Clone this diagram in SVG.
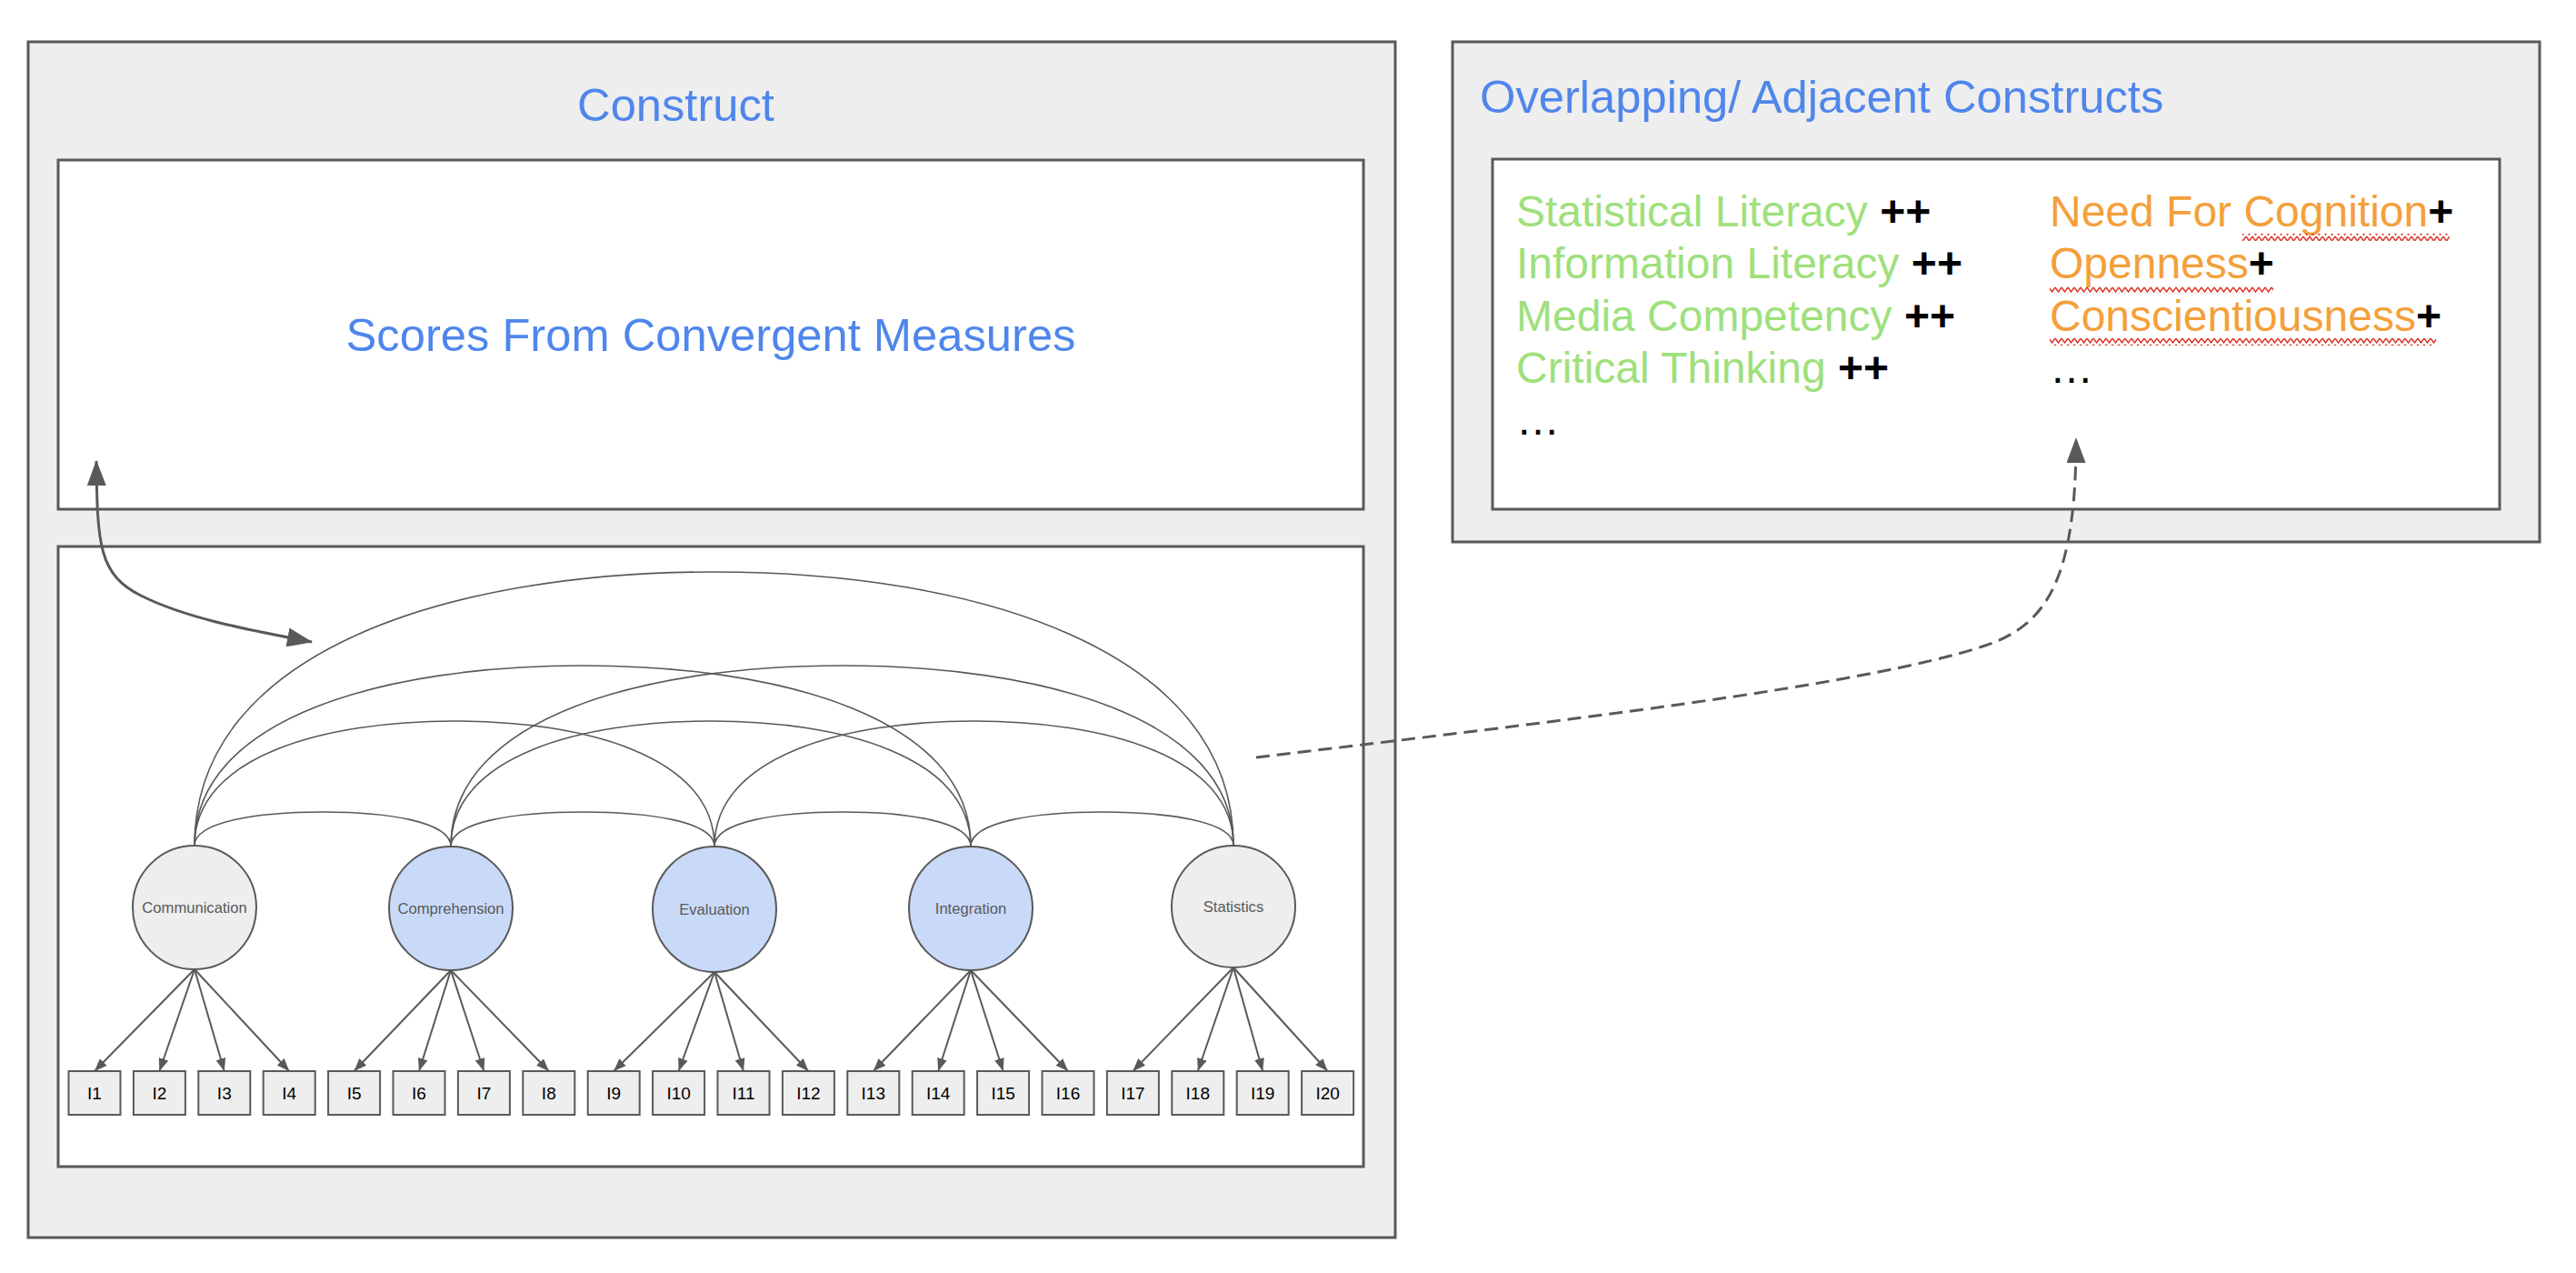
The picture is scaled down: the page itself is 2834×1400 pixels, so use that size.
<svg xmlns="http://www.w3.org/2000/svg" width="2834" height="1400" viewBox="0 0 2834 1400">
<style>
.frame{fill:#eeeeee;stroke:#595959;stroke-width:3}
.panel{fill:#ffffff;stroke:#595959;stroke-width:3}
.title{font-family:"Liberation Sans",Arial,sans-serif;font-size:50.7px;fill:#4f86ec}
.item{font-family:"Liberation Sans",Arial,sans-serif;font-size:48px}
.g{fill:#9ee07c}
.o{fill:#f3a03b}
.k{fill:#000000;font-weight:bold}
.dots{fill:#000000}
.lat{stroke:#595959;stroke-width:2}
.latlbl{font-family:"Liberation Sans",Arial,sans-serif;font-size:16.6px;fill:#595959;text-anchor:middle}
.box{fill:#eeeeee;stroke:#595959;stroke-width:2}
.boxlbl{font-family:"Liberation Sans",Arial,sans-serif;font-size:19px;fill:#000000;text-anchor:middle}
.arc{fill:none;stroke:#595959;stroke-width:1.6}
.load{fill:none;stroke:#595959;stroke-width:2;marker-end:url(#ah)}
.big{fill:none;stroke:#595959;stroke-width:3}
</style>
<defs>
<marker id="ah" viewBox="0 0 14 11" refX="14" refY="5.5" markerWidth="14" markerHeight="11" markerUnits="userSpaceOnUse" orient="auto"><path d="M0,0 L14,5.5 L0,11 z" fill="#595959"/></marker>
<marker id="bh" viewBox="0 0 28 21" refX="27" refY="10.5" markerWidth="28" markerHeight="21" markerUnits="userSpaceOnUse" orient="auto-start-reverse"><path d="M0,0 L28,10.5 L0,21 z" fill="#595959"/></marker>
<pattern id="zig" width="7" height="7" patternUnits="userSpaceOnUse"><path d="M0,1 L3.5,6 L7,1" fill="none" stroke="#d93025" stroke-width="1.4"/></pattern>
</defs>

<g id="construct">
<rect class="frame" x="31" y="46" width="1504" height="1315"/>
<text class="title" x="743.5" y="133" text-anchor="middle">Construct</text>
</g>

<g id="convergent">
<rect class="panel" x="64" y="176" width="1436" height="384"/>
<text class="title" x="782" y="386" text-anchor="middle">Scores From Convergent Measures</text>
</g>

<g id="model">
<rect class="panel" x="64" y="601" width="1436" height="682"/>
</g>

<g id="adjacent">
<rect class="frame" x="1598" y="46" width="1196" height="550"/>
<text class="title" x="1628" y="124">Overlapping/ Adjacent Constructs</text>
</g>

<g id="adjacent-list">
<rect class="panel" x="1642" y="175" width="1108" height="385"/>
<text class="item g" x="1668" y="249">Statistical Literacy <tspan class="k">++</tspan></text>
<text class="item g" x="1668" y="306">Information Literacy <tspan class="k">++</tspan></text>
<text class="item g" x="1668" y="364">Media Competency <tspan class="k">++</tspan></text>
<text class="item g" x="1668" y="421">Critical Thinking <tspan class="k">++</tspan></text>
<text class="item dots" x="1668" y="478">…</text>
<text class="item o" x="2255" y="249">Need For Cognition<tspan class="k">+</tspan></text>
<text class="item o" x="2255" y="306">Openness<tspan class="k">+</tspan></text>
<text class="item o" x="2255" y="364">Conscientiousness<tspan class="k">+</tspan></text>
<text class="item dots" x="2255" y="421">…</text>
<rect x="2467" y="257" width="228" height="8" fill="url(#zig)"/>
<rect x="2255" y="315" width="246" height="8" fill="url(#zig)"/>
<rect x="2255" y="372" width="425" height="8" fill="url(#zig)"/>
</g>

<g id="latents">
<g id="communication"><ellipse class="lat" cx="214" cy="998" rx="68" ry="68" fill="#eeeeee"/><text class="latlbl" x="214" y="1004">Communication</text></g>
<g id="comprehension"><ellipse class="lat" cx="496" cy="999" rx="68" ry="68" fill="#c9daf8"/><text class="latlbl" x="496" y="1005">Comprehension</text></g>
<g id="evaluation"><ellipse class="lat" cx="786" cy="1000" rx="68" ry="69" fill="#c9daf8"/><text class="latlbl" x="786" y="1006">Evaluation</text></g>
<g id="integration"><ellipse class="lat" cx="1068" cy="999" rx="68" ry="68" fill="#c9daf8"/><text class="latlbl" x="1068" y="1005">Integration</text></g>
<g id="statistics"><ellipse class="lat" cx="1357" cy="997" rx="68" ry="67" fill="#eeeeee"/><text class="latlbl" x="1357" y="1003">Statistics</text></g>
</g>

<g id="indicators">
<g id="i1"><rect class="box" x="75.5" y="1178" width="57" height="48"/><text class="boxlbl" x="104" y="1209">I1</text></g>
<g id="i2"><rect class="box" x="146.9" y="1178" width="57" height="48"/><text class="boxlbl" x="175.4" y="1209">I2</text></g>
<g id="i3"><rect class="box" x="218.3" y="1178" width="57" height="48"/><text class="boxlbl" x="246.8" y="1209">I3</text></g>
<g id="i4"><rect class="box" x="289.7" y="1178" width="57" height="48"/><text class="boxlbl" x="318.2" y="1209">I4</text></g>
<g id="i5"><rect class="box" x="361.1" y="1178" width="57" height="48"/><text class="boxlbl" x="389.6" y="1209">I5</text></g>
<g id="i6"><rect class="box" x="432.5" y="1178" width="57" height="48"/><text class="boxlbl" x="461" y="1209">I6</text></g>
<g id="i7"><rect class="box" x="503.9" y="1178" width="57" height="48"/><text class="boxlbl" x="532.4" y="1209">I7</text></g>
<g id="i8"><rect class="box" x="575.3" y="1178" width="57" height="48"/><text class="boxlbl" x="603.8" y="1209">I8</text></g>
<g id="i9"><rect class="box" x="646.7" y="1178" width="57" height="48"/><text class="boxlbl" x="675.2" y="1209">I9</text></g>
<g id="i10"><rect class="box" x="718.1" y="1178" width="57" height="48"/><text class="boxlbl" x="746.6" y="1209">I10</text></g>
<g id="i11"><rect class="box" x="789.5" y="1178" width="57" height="48"/><text class="boxlbl" x="818" y="1209">I11</text></g>
<g id="i12"><rect class="box" x="860.9" y="1178" width="57" height="48"/><text class="boxlbl" x="889.4" y="1209">I12</text></g>
<g id="i13"><rect class="box" x="932.3" y="1178" width="57" height="48"/><text class="boxlbl" x="960.8" y="1209">I13</text></g>
<g id="i14"><rect class="box" x="1003.7" y="1178" width="57" height="48"/><text class="boxlbl" x="1032.2" y="1209">I14</text></g>
<g id="i15"><rect class="box" x="1075.1" y="1178" width="57" height="48"/><text class="boxlbl" x="1103.6" y="1209">I15</text></g>
<g id="i16"><rect class="box" x="1146.5" y="1178" width="57" height="48"/><text class="boxlbl" x="1175" y="1209">I16</text></g>
<g id="i17"><rect class="box" x="1217.9" y="1178" width="57" height="48"/><text class="boxlbl" x="1246.4" y="1209">I17</text></g>
<g id="i18"><rect class="box" x="1289.3" y="1178" width="57" height="48"/><text class="boxlbl" x="1317.8" y="1209">I18</text></g>
<g id="i19"><rect class="box" x="1360.7" y="1178" width="57" height="48"/><text class="boxlbl" x="1389.2" y="1209">I19</text></g>
<g id="i20"><rect class="box" x="1432.1" y="1178" width="57" height="48"/><text class="boxlbl" x="1460.6" y="1209">I20</text></g>
</g>

<g id="connectors">
<path class="arc" d="M214,930 C214,903.4 284.5,893 355,893 C425.5,893 496,903.4 496,931"/>
<path class="arc" d="M496,931 C496,903.4 568.5,893 641,893 C713.5,893 786,903.4 786,931"/>
<path class="arc" d="M786,931 C786,903.4 856.5,893 927,893 C997.5,893 1068,903.4 1068,931"/>
<path class="arc" d="M1068,931 C1068,903.4 1140.3,893 1212.5,893 C1284.8,893 1357,903.4 1357,930"/>
<path class="arc" d="M214,930 C214,831.4 357,793 500,793 C643,793 786,831.4 786,931"/>
<path class="arc" d="M496,931 C496,831.4 639,793 782,793 C925,793 1068,831.4 1068,931"/>
<path class="arc" d="M786,931 C786,831.4 928.8,793 1071.5,793 C1214.3,793 1357,831.4 1357,930"/>
<path class="arc" d="M214,930 C214,787.4 427.5,732 641,732 C854.5,732 1068,787.4 1068,931"/>
<path class="arc" d="M496,931 C496,787.4 711.3,732 926.5,732 C1141.8,732 1357,787.4 1357,930"/>
<path class="arc" d="M214,930 C214,713.3 499.8,629 785.5,629 C1071.3,629 1357,713.3 1357,930"/>

<path class="load" d="M214,1066 L104,1178"/>
<path class="load" d="M214,1066 L175.4,1178"/>
<path class="load" d="M214,1066 L246.8,1178"/>
<path class="load" d="M214,1066 L318.2,1178"/>
<path class="load" d="M496,1067 L389.6,1178"/>
<path class="load" d="M496,1067 L461,1178"/>
<path class="load" d="M496,1067 L532.4,1178"/>
<path class="load" d="M496,1067 L603.8,1178"/>
<path class="load" d="M786,1069 L675.2,1178"/>
<path class="load" d="M786,1069 L746.6,1178"/>
<path class="load" d="M786,1069 L818,1178"/>
<path class="load" d="M786,1069 L889.4,1178"/>
<path class="load" d="M1068,1067 L960.8,1178"/>
<path class="load" d="M1068,1067 L1032.2,1178"/>
<path class="load" d="M1068,1067 L1103.6,1178"/>
<path class="load" d="M1068,1067 L1175,1178"/>
<path class="load" d="M1357,1064 L1246.4,1178"/>
<path class="load" d="M1357,1064 L1317.8,1178"/>
<path class="load" d="M1357,1064 L1389.2,1178"/>
<path class="load" d="M1357,1064 L1460.6,1178"/>

<path class="big" d="M106,507 C107,600 109,632 155,655 C205,680 270,692 343,706" marker-start="url(#bh)" marker-end="url(#bh)"/>
<path class="big" d="M1382,833 C1700,795 2050,755 2184,710 C2250,688 2284,640 2284,482" stroke-dasharray="15 8" marker-end="url(#bh)"/>
</g>
</svg>
